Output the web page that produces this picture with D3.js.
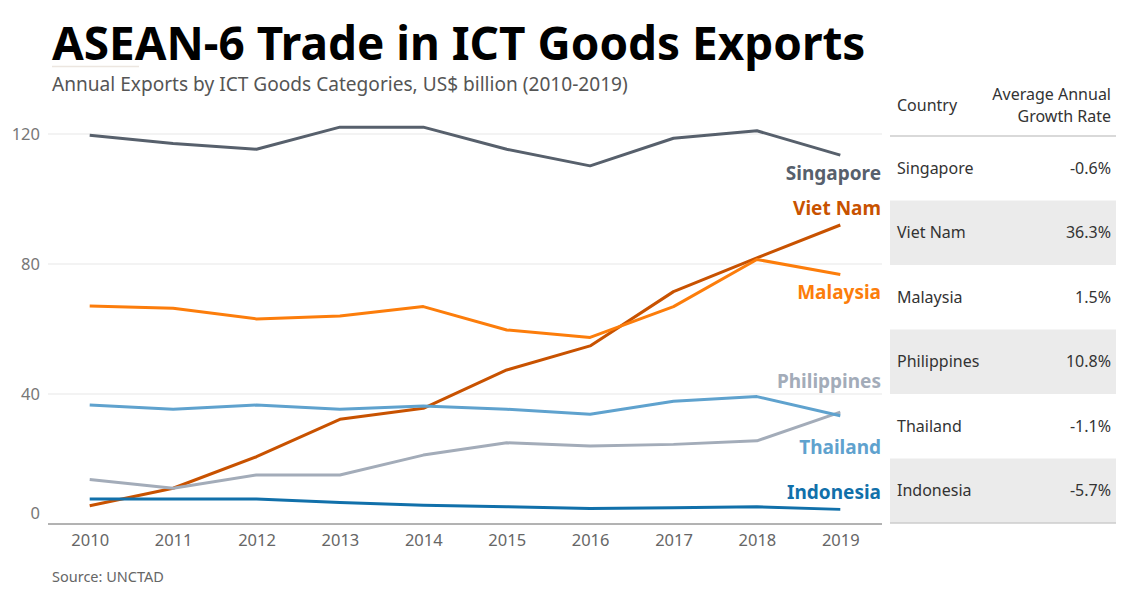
<!DOCTYPE html>
<html>
<head>
<meta charset="utf-8">
<script src="https://cdn.jsdelivr.net/npm/d3@7"></script>
<style>
  body { margin: 0; background: #fff; }
  svg { display: block; font-family: "Noto Sans", "Open Sans", sans-serif; }
</style>
</head>
<body>
<svg id="chart" width="1140" height="600"></svg>
<script>
// chart data
const years = [2010, 2011, 2012, 2013, 2014, 2015, 2016, 2017, 2018, 2019];
const countries = ["Singapore", "Viet Nam", "Malaysia", "Philippines", "Thailand", "Indonesia"];
const singapore = [119.6, 117.1, 115.3, 122.1, 122.1, 115.3, 110.2, 118.7, 121.0, 113.5];
const vietNam = [5.6, 11.0, 20.7, 32.2, 35.6, 47.4, 54.8, 71.5, 81.9, 92.0];
const malaysia = [67.1, 66.4, 63.1, 64.0, 66.9, 59.7, 57.4, 66.9, 81.4, 76.8];
const philippines = [13.7, 11.0, 15.1, 15.1, 21.2, 25.0, 24.0, 24.5, 25.6, 34.4];
const thailand = [36.6, 35.3, 36.6, 35.3, 36.3, 35.3, 33.8, 37.8, 39.2, 33.3];
const indonesia = [7.7, 7.7, 7.7, 6.6, 5.8, 5.3, 4.8, 5.0, 5.3, 4.5];
const growthRates = ["-0.6%", "36.3%", "1.5%", "10.8%", "-1.1%", "-5.7%"];
const yTicks = [0, 40, 80, 120];

const seriesValues = [singapore, vietNam, malaysia, philippines, thailand, indonesia];
const colors = {
  "Singapore": "#57606c",
  "Viet Nam": "#c85200",
  "Malaysia": "#fc7d0b",
  "Philippines": "#a3acb9",
  "Thailand": "#5fa2ce",
  "Indonesia": "#1170aa"
};
// label centre positions (in data units) picked to avoid overlap, like the original
const labelAt = {
  "Singapore": 107.9, "Viet Nam": 97.1, "Malaysia": 71.2,
  "Philippines": 43.8, "Thailand": 23.5, "Indonesia": 9.6
};

const svg = d3.select("#chart");

// title
const title = svg.append("text")
  .attr("x", 52).attr("y", 60)
  .style("font-size", "50px")
  .style("font-weight", "bold")
  .attr("fill", "#000")
  .text("ASEAN-6 Trade in ICT Goods Exports");
const tw = title.node().getComputedTextLength();
title.style("font-size", (50 * 813 / tw).toFixed(1) + "px");

svg.append("line")
  .attr("x1", 52).attr("x2", 139).attr("y1", 66.5).attr("y2", 66.5)
  .attr("stroke", "#ece6e0").attr("stroke-width", 1.5);

const sub = svg.append("text")
  .attr("x", 52).attr("y", 91)
  .style("font-size", "18px")
  .attr("fill", "#555")
  .text("Annual Exports by ICT Goods Categories, US$ billion (2010-2019)");
const sw = sub.node().getComputedTextLength();
sub.style("font-size", (18 * 576 / sw).toFixed(2) + "px");

// plot area
const plotLeft = 48, plotRight = 882, plotBottom = 524;

const x = d3.scalePoint()
  .domain(years)
  .range([plotLeft, plotRight])
  .padding(0.5);

const y = d3.scaleLinear()
  .domain([0, 120])
  .range([plotBottom, plotBottom - 120 * 3.25]);

// gridlines
svg.append("g")
  .selectAll("line")
  .data(yTicks.filter(d => d > 0))
  .join("line")
  .attr("x1", plotLeft).attr("x2", plotRight)
  .attr("y1", d => y(d)).attr("y2", d => y(d))
  .attr("stroke", "#efefef")
  .attr("stroke-width", 1.5);

// y axis labels
svg.append("g")
  .selectAll("text")
  .data(yTicks)
  .join("text")
  .attr("x", 40)
  .attr("y", d => d === 0 ? y(d) - 11 : y(d))
  .attr("dy", "0.35em")
  .attr("text-anchor", "end")
  .style("font-size", "16.5px")
  .attr("fill", "#777")
  .text(d => d);

// x axis
const xAxis = svg.append("g")
  .attr("transform", `translate(0,${plotBottom})`)
  .call(d3.axisBottom(x).tickSize(0).tickPadding(10));
xAxis.select(".domain")
  .attr("d", `M${plotLeft},0H${plotRight}`)
  .attr("stroke", "#666");
xAxis.selectAll("text")
  .style("font-size", "16.5px")
  .style("font-family", "'Noto Sans', sans-serif")
  .attr("fill", "#666");

// lines
const line = d3.line()
  .x((d, i) => x(years[i]))
  .y(d => y(d));

svg.append("g")
  .selectAll("path")
  .data(countries.map((c, i) => ({ name: c, values: seriesValues[i] })))
  .join("path")
  .attr("fill", "none")
  .attr("stroke", d => colors[d.name])
  .attr("stroke-width", 3)
  .attr("stroke-linejoin", "round")
  .attr("d", d => line(d.values));

// end labels
svg.append("g")
  .selectAll("text")
  .data(countries)
  .join("text")
  .attr("x", 881)
  .attr("y", d => y(labelAt[d]))
  .attr("dy", "0.35em")
  .attr("text-anchor", "end")
  .style("font-size", "19px")
  .style("font-weight", "bold")
  .attr("fill", d => colors[d])
  .text(d => d);

// source
svg.append("text")
  .attr("x", 52).attr("y", 582)
  .style("font-size", "14.5px")
  .attr("fill", "#666")
  .text("Source: UNCTAD");

// table
const tLeft = 890, tRight = 1116, tTop = 136, rowH = 64.5;

svg.append("text")
  .attr("x", 897).attr("y", 105)
  .attr("dy", "0.35em")
  .style("font-size", "16px")
  .attr("fill", "#333")
  .text("Country");
svg.append("text")
  .attr("x", 1111).attr("y", 94)
  .attr("dy", "0.35em")
  .attr("text-anchor", "end")
  .style("font-size", "16px")
  .attr("fill", "#333")
  .text("Average Annual");
svg.append("text")
  .attr("x", 1111).attr("y", 116)
  .attr("dy", "0.35em")
  .attr("text-anchor", "end")
  .style("font-size", "16px")
  .attr("fill", "#333")
  .text("Growth Rate");

const rows = svg.append("g")
  .selectAll("g")
  .data(countries)
  .join("g")
  .attr("transform", (d, i) => `translate(0,${tTop + i * rowH})`);

rows.append("rect")
  .attr("x", tLeft).attr("width", tRight - tLeft)
  .attr("height", rowH)
  .attr("fill", (d, i) => i % 2 === 1 ? "#ebebeb" : "#fff");

rows.append("text")
  .attr("x", 897).attr("y", rowH / 2)
  .attr("dy", "0.35em")
  .style("font-size", "16px")
  .attr("fill", "#333")
  .text(d => d);

rows.append("text")
  .attr("x", 1111).attr("y", rowH / 2)
  .attr("dy", "0.35em")
  .attr("text-anchor", "end")
  .style("font-size", "16px")
  .attr("fill", "#333")
  .text((d, i) => growthRates[i]);

svg.append("line")
  .attr("x1", tLeft).attr("x2", tRight)
  .attr("y1", tTop).attr("y2", tTop)
  .attr("stroke", "#ccc").attr("stroke-width", 1.5);
svg.append("line")
  .attr("x1", tLeft).attr("x2", tRight)
  .attr("y1", tTop + 6 * rowH).attr("y2", tTop + 6 * rowH)
  .attr("stroke", "#ccc").attr("stroke-width", 1.5);
</script>
</body>
</html>
